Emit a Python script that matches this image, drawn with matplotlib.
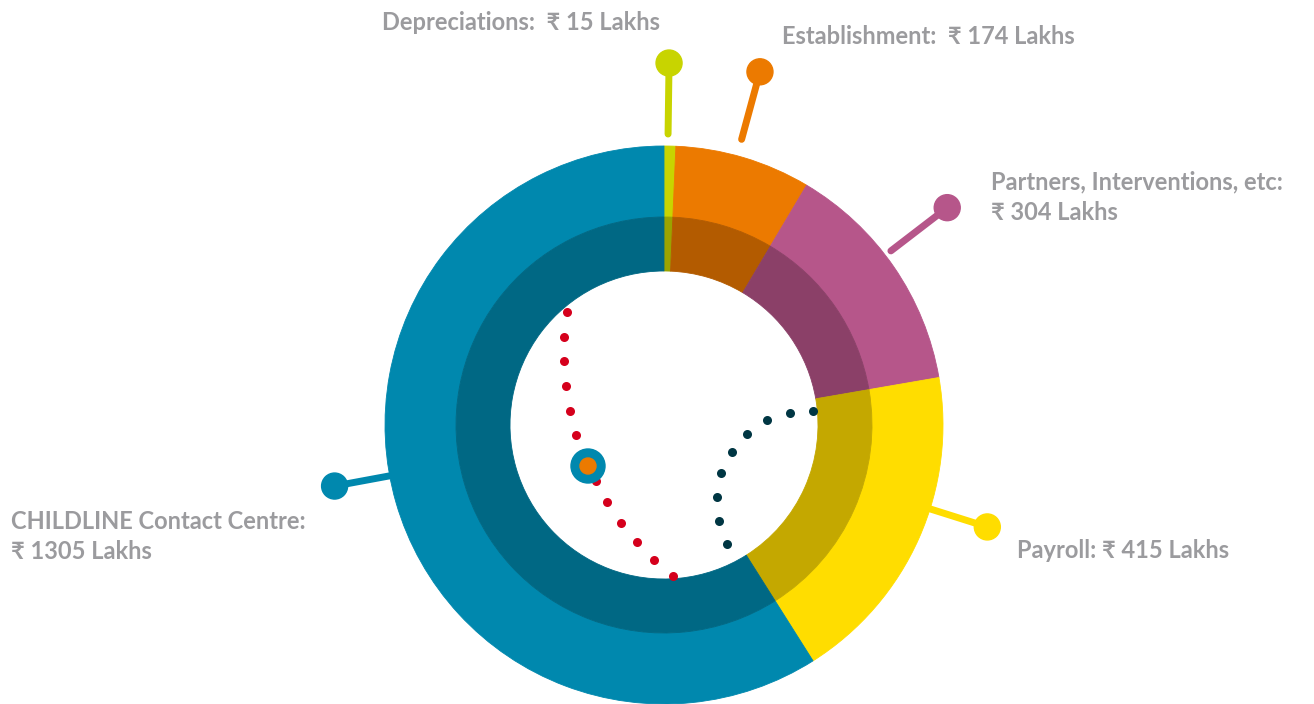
import matplotlib
matplotlib.use("Agg")
import matplotlib.pyplot as plt
from matplotlib.patches import Circle
import numpy as np

# Expenditure by head (₹ Lakhs), clockwise from top
labels = ["Depreciations", "Establishment", "Partners, Interventions, etc",
          "Payroll", "CHILDLINE Contact Centre"]
values = [15, 174, 304, 415, 1305]
label_texts = ["Depreciations:  \u20b9 15 Lakhs",
               "Establishment:  \u20b9 174 Lakhs",
               "Partners, Interventions, etc:\n\u20b9 304 Lakhs",
               "Payroll: \u20b9 415 Lakhs",
               "CHILDLINE Contact Centre:\n\u20b9 1305 Lakhs"]

outer_colors = ["#C8D400", "#EC7A00", "#B6568A", "#FFDD00", "#0088AE"]
inner_colors = ["#9AA300", "#B35B00", "#8B4068", "#C4A800", "#006884"]

# decorative dotted paths inside the hole (pixel coords of the original)
red_x = [567, 564, 564, 566, 570, 576, 585, 596, 607, 621, 637, 654, 673]
red_y = [312, 337, 361, 386, 411, 435, 458, 481, 502, 523, 542, 560, 576]
dark_x = [813, 790, 767, 747, 732, 721, 717, 719, 727]
dark_y = [411, 413, 420, 434, 452, 473, 497, 521, 544]

W, H = 1314, 704
cx, cy = 664, H - 425
R_OUT, R_MID, R_IN = 279, 208, 154

fig = plt.figure(figsize=(W / 100, H / 100), dpi=100)
ax = fig.add_axes([0, 0, 1, 1])

w1, _ = ax.pie(values, radius=R_OUT, center=(cx, cy), startangle=90,
               counterclock=False, colors=outer_colors,
               wedgeprops=dict(width=R_OUT - R_MID))
w2, _ = ax.pie(values, radius=R_MID, center=(cx, cy), startangle=90,
               counterclock=False, colors=inner_colors,
               wedgeprops=dict(width=R_MID - R_IN))
for w in list(w1) + list(w2):
    w.set_edgecolor(w.get_facecolor())
    w.set_linewidth(0.6)

# callouts: angle (deg), start radius, end radius
call_ang = [89.2, 74.8, 37.5, -17.5, 190.5]
call_r0 = [291, 296, 286, 279, 279]
call_r1 = [362, 366, 357, 339, 335]
for a, r0, r1, c in zip(call_ang, call_r0, call_r1, outer_colors):
    t = np.deg2rad(a)
    x0, y0 = cx + r0 * np.cos(t), cy + r0 * np.sin(t)
    x1, y1 = cx + r1 * np.cos(t), cy + r1 * np.sin(t)
    ax.plot([x0, x1], [y0, y1], color=c, lw=5, solid_capstyle="round", zorder=3)
    ax.add_patch(Circle((x1, y1), 13, color=c, zorder=4))

text_pos = [(382, 22), (782, 37), (991, 197), (1017, 551), (11, 536.5)]
for (tx, ty), s in zip(text_pos, label_texts):
    ax.text(tx, H - ty, s, ha="left", va="center", fontsize=17,
            fontweight="bold", color="#9B9B9E", linespacing=1.38,
            family=["Lato", "DejaVu Sans"])

ax.plot(red_x, [H - y for y in red_y], "o", color="#D5001C", ms=6.5,
        mec="none", zorder=5)
ax.plot(dark_x, [H - y for y in dark_y], "o", color="#003643", ms=6.5,
        mec="none", zorder=5)
ax.add_patch(Circle((588, H - 466), 17, color="#0088AE", zorder=6))
ax.add_patch(Circle((588, H - 466), 8, color="#EC7A00", zorder=7))

ax.set_xlim(0, W)
ax.set_ylim(0, H)
ax.set_aspect("equal")
ax.axis("off")
fig.savefig("out.png", dpi=100)
